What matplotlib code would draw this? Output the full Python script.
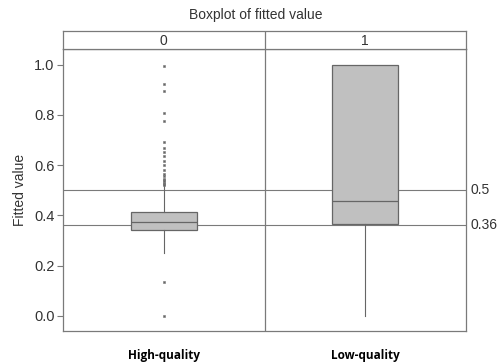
import numpy as np
import matplotlib
matplotlib.use("Agg")
import matplotlib.pyplot as plt
import matplotlib.transforms as mtransforms

plt.rcParams['font.family'] = ['Liberation Sans', 'DejaVu Sans']

# summary statistics
groups = ['0', '1']
group_names = ['High-quality', 'Low-quality']
q1 = [0.341, 0.367]
med = [0.375, 0.457]
q3 = [0.412, 0.998]
whislo = [0.252, 0.0]
whishi = [0.527, 0.998]
outliers_0 = [0.996, 0.921, 0.895, 0.806, 0.775, 0.693, 0.668, 0.652, 0.636,
              0.615, 0.600, 0.580, 0.566, 0.556, 0.546, 0.540, 0.535, 0.530,
              0.526, 0.522, 0.133, 0.0]
outliers_1 = []
ref_lines = [0.5, 0.36]
ref_labels = ['0.5', '0.36']
yticks = [0.0, 0.2, 0.4, 0.6, 0.8, 1.0]

W, H = 497, 364
fig = plt.figure(figsize=(W / 100, H / 100), dpi=100)
line_col = '#7a7a7a'

left, right, top_hdr, hdr_bot, bottom = 63, 466, 31, 49, 331
ax = fig.add_axes([left / W, (H - bottom) / H, (right - left) / W, (bottom - hdr_bot) / H])
hdr = fig.add_axes([left / W, (H - hdr_bot) / H, (right - left) / W, (hdr_bot - top_hdr) / H])

stats = []
for i in range(2):
    stats.append(dict(q1=q1[i], med=med[i], q3=q3[i], whislo=whislo[i], whishi=whishi[i],
                      fliers=[outliers_0, outliers_1][i]))

ax.bxp(stats, positions=[0, 1], widths=0.33, showcaps=False, patch_artist=True,
       boxprops=dict(facecolor='#c0c0c0', edgecolor='#666666', linewidth=0.9),
       medianprops=dict(color='#666666', linewidth=0.9),
       whiskerprops=dict(color='#666666', linewidth=0.8),
       flierprops=dict(marker='s', markersize=1.7, markerfacecolor='#666666',
                       markeredgecolor='#777777', markeredgewidth=0.4, linestyle='none'))

for v in ref_lines:
    ax.axhline(v, color=line_col, linewidth=0.8, zorder=0)
ax.axvline(0.5, color=line_col, linewidth=0.9)

ax.set_xlim(-0.5, 1.5)
ax.set_ylim(-0.06, 1.062)
ax.set_yticks(yticks)
ax.set_yticklabels(['{:.1f}'.format(t) for t in yticks], fontsize=10.5, color='#333333')
ax.tick_params(axis='y', length=4, width=0.8, color=line_col, pad=2)
ax.set_xticks([0, 1])
ax.set_xticklabels(group_names, fontsize=8.5, fontweight='bold', family='Open Sans')
ax.tick_params(axis='x', length=0, pad=13)
ax.set_ylabel('Fitted value', fontsize=10, color='#333333', labelpad=5)
for s in ax.spines.values():
    s.set_color(line_col)
    s.set_linewidth(0.9)

trans = mtransforms.blended_transform_factory(ax.transAxes, ax.transData)
for v, lab in zip(ref_lines, ref_labels):
    ax.text(1.01, v, lab, transform=trans, fontsize=10, color='#333333',
            va='center', ha='left', clip_on=False)

hdr.set_xlim(-0.5, 1.5)
hdr.set_ylim(0, 1)
hdr.set_xticks([])
hdr.set_yticks([])
hdr.axvline(0.5, color=line_col, linewidth=0.9)
for i, g in enumerate(groups):
    hdr.text(i, 0.45, g, ha='center', va='center', fontsize=10, color='#333333')
for s in hdr.spines.values():
    s.set_color(line_col)
    s.set_linewidth(0.9)

fig.text(256 / W, 1 - 15 / H, 'Boxplot of fitted value', ha='center', va='center',
         fontsize=10, color='#333333')

fig.savefig('out.png', dpi=100)
